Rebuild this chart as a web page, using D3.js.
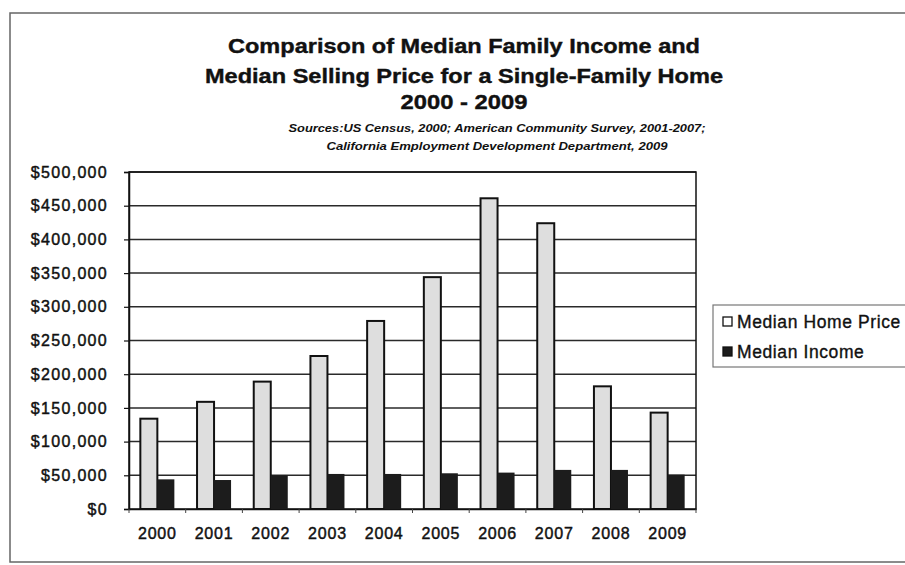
<!DOCTYPE html>
<html>
<head>
<meta charset="utf-8">
<script src="https://cdn.jsdelivr.net/npm/d3@7"></script>
<style>
  body { margin: 0; background: #fff; }
  svg { display: block; font-family: "Liberation Sans", Arial, sans-serif; }
</style>
</head>
<body>
<div id="chart"></div>
<script>
// Data
const years = ['2000', '2001', '2002', '2003', '2004', '2005', '2006', '2007', '2008', '2009'];
const homePrice = [134000, 159000, 189000, 227000, 279000, 344000, 461000, 424000, 182000, 143000];
const income = [44000, 43000, 50000, 52000, 52000, 53000, 54000, 58000, 58000, 51000];
const yTicks = [0, 50000, 100000, 150000, 200000, 250000, 300000, 350000, 400000, 450000, 500000];
const seriesNames = ['Median Home Price', 'Median Income'];
const titleLines = ['Comparison of Median Family Income and', 'Median Selling Price for a Single-Family Home', '2000 - 2009'];
const sourceLines = ['Sources:US Census, 2000; American Community Survey, 2001-2007;', 'California Employment Development Department, 2009'];

const W = 905, H = 565;
const plot = { left: 129, right: 696, top: 172, bottom: 509 };
const fills = ['#dedede', '#1c1c1c'];

const svg = d3.select('#chart').append('svg').attr('width', W).attr('height', H);

// outer chart frame (runs off the right edge like the scan)
svg.append('rect').attr('x', 10).attr('y', 13).attr('width', 1000).attr('height', 549)
  .attr('fill', 'none').attr('stroke', '#666').attr('stroke-width', 1.5);

// titles
const titleY = [53, 83, 109];
const titleW = [472, 518, 127];
titleLines.forEach((t, i) => {
  svg.append('text').attr('x', 464).attr('y', titleY[i]).attr('text-anchor', 'middle')
    .attr('textLength', titleW[i]).attr('lengthAdjust', 'spacingAndGlyphs')
    .style('font-size', '21px').style('font-weight', 'bold').attr('fill', '#111')
    .attr('stroke', '#111').attr('stroke-width', 0.4).text(t);
});
const srcY = [132, 150], srcW = [417, 341];
sourceLines.forEach((t, i) => {
  svg.append('text').attr('x', 497).attr('y', srcY[i]).attr('text-anchor', 'middle')
    .attr('textLength', srcW[i]).attr('lengthAdjust', 'spacingAndGlyphs')
    .style('font-size', '11px').style('font-weight', 'bold').style('font-style', 'italic')
    .attr('fill', '#111').text(t);
});

// scales
const x = d3.scaleBand().domain(years).range([plot.left, plot.right]).paddingInner(0.4).paddingOuter(0.2);
const xs = d3.scaleBand().domain(seriesNames).range([0, x.bandwidth()]);
const y = d3.scaleLinear().domain([0, 500000]).range([plot.bottom, plot.top]);

// gridlines
svg.append('g').selectAll('line').data(yTicks.filter(d => d > 0)).enter().append('line')
  .attr('x1', plot.left).attr('x2', plot.right)
  .attr('y1', d => y(d)).attr('y2', d => y(d))
  .attr('stroke', '#2a2a2a').attr('stroke-width', 1.5);

// plot border
svg.append('rect').attr('x', plot.left).attr('y', plot.top)
  .attr('width', plot.right - plot.left).attr('height', plot.bottom - plot.top)
  .attr('fill', 'none').attr('stroke', '#111').attr('stroke-width', 1.5);

// y axis
const fmt = v => '$' + d3.format(',')(v);
const yAxis = svg.append('g').attr('transform', `translate(${plot.left},0)`)
  .call(d3.axisLeft(y).tickValues(yTicks).tickFormat(fmt).tickSize(5).tickPadding(16));
yAxis.select('.domain').attr('stroke', '#111').attr('stroke-width', 1.5);
yAxis.selectAll('line').attr('stroke', '#111').attr('stroke-width', 1.2);
yAxis.selectAll('text').style('font-size', '16px').style('letter-spacing', '1.3px')
  .attr('fill', '#111').attr('stroke', '#111').attr('stroke-width', 0.45)
  .attr('font-family', '"Liberation Sans", Arial, sans-serif');

// x axis
const xAxis = svg.append('g').attr('transform', `translate(0,${plot.bottom})`)
  .call(d3.axisBottom(x).tickSize(0).tickPadding(19));
xAxis.select('.domain').attr('stroke', '#111').attr('stroke-width', 1.5);
xAxis.selectAll('text').style('font-size', '16px').style('letter-spacing', '0.8px')
  .attr('fill', '#111').attr('stroke', '#111').attr('stroke-width', 0.45)
  .attr('font-family', '"Liberation Sans", Arial, sans-serif');
// category boundary tick marks
const bounds = years.map(d => x(d) - x.step() * x.paddingOuter()).concat([plot.right]);
svg.append('g').selectAll('line').data(bounds).enter().append('line')
  .attr('x1', d => d).attr('x2', d => d)
  .attr('y1', plot.bottom).attr('y2', plot.bottom + 4)
  .attr('stroke', '#444').attr('stroke-width', 1);

// bars
const rows = years.map((yr, i) => ({ year: yr, vals: [homePrice[i], income[i]] }));
const groups = svg.append('g').selectAll('g').data(rows).enter().append('g')
  .attr('transform', d => `translate(${x(d.year)},0)`);
groups.selectAll('rect').data(d => d.vals.map((v, j) => ({ v, j }))).enter().append('rect')
  .attr('x', d => xs(seriesNames[d.j]))
  .attr('y', d => y(d.v))
  .attr('width', xs.bandwidth())
  .attr('height', d => plot.bottom - y(d.v))
  .attr('fill', d => fills[d.j])
  .attr('stroke', d => d.j === 0 ? '#111' : 'none')
  .attr('stroke-width', 2);

// legend
const lg = svg.append('g');
lg.append('rect').attr('x', 713).attr('y', 305).attr('width', 220).attr('height', 62)
  .attr('fill', '#fff').attr('stroke', '#777').attr('stroke-width', 1.2);
seriesNames.forEach((name, i) => {
  const cy = 322 + i * 30;
  lg.append('rect').attr('x', 723).attr('y', cy - 5).attr('width', 9).attr('height', 9)
    .attr('fill', i === 0 ? '#fff' : fills[1]).attr('stroke', '#111').attr('stroke-width', 1.3);
  lg.append('text').attr('x', 737).attr('y', cy + 6)
    .style('font-size', '17.5px').style('letter-spacing', '0.6px').attr('fill', '#111')
    .attr('stroke', '#111').attr('stroke-width', 0.35).text(name);
});
</script>
</body>
</html>
